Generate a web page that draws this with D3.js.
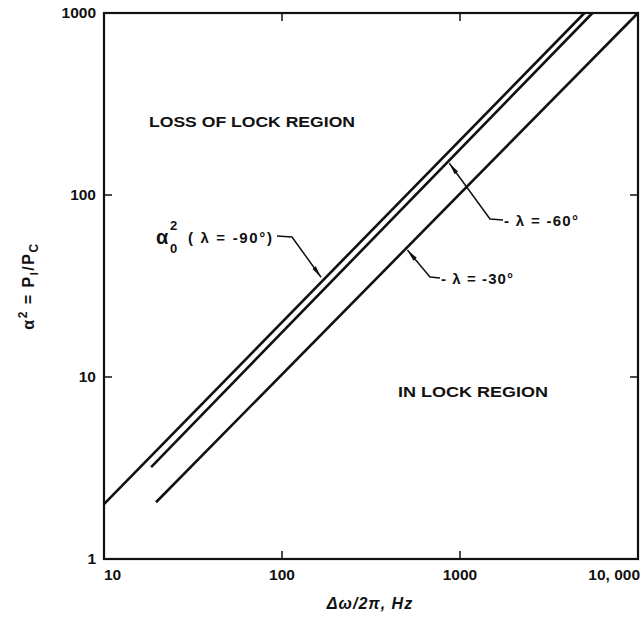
<!DOCTYPE html>
<html>
<head>
<meta charset="utf-8">
<script src="https://cdn.jsdelivr.net/npm/d3@7"></script>
<style>
  body { margin: 0; background: #fff; }
  svg text { font-family: "Liberation Sans", "DejaVu Sans", sans-serif; font-weight: bold; fill: #111; }
</style>
</head>
<body>
<svg id="chart" width="643" height="627"></svg>
<script>
// ---- data ----
const xTicks = [10, 100, 1000, 10000];
const xTickLabels = ["10", "100", "1000", "10, 000"];
const yTicks = [1, 10, 100, 1000];
const yTickLabels = ["1", "10", "100", "1000"];

// curve endpoints (straight lines on log-log axes)
const a0X = [10, 5000];
const a0Y = [2, 1000];
const l60X = [18.4, 5550];
const l60Y = [3.2, 1000];
const l30X = [19.6, 10000];
const l30Y = [2.05, 1000];

// x position (Hz) where each annotation arrow touches its curve
const arrowAtX = { a0: 170, l60: 860, l30: 500 };

// ---- layout ----
const svg = d3.select("#chart");
const x = d3.scaleLog().domain([10, 10000]).range([104, 638]);
const y = d3.scaleLog().domain([1, 1000]).range([559, 13]);

const ink = "#111";

// frame
svg.append("rect")
  .attr("x", x(10)).attr("y", y(1000))
  .attr("width", x(10000) - x(10)).attr("height", y(1) - y(1000))
  .attr("fill", "none").attr("stroke", ink).attr("stroke-width", 2.2);

// inward ticks
const tickLen = 8;
const g = svg.append("g").attr("stroke", ink).attr("stroke-width", 1.5);
xTicks.slice(1, -1).forEach(t => {
  g.append("line").attr("x1", x(t)).attr("x2", x(t)).attr("y1", y(1)).attr("y2", y(1) - tickLen);
  g.append("line").attr("x1", x(t)).attr("x2", x(t)).attr("y1", y(1000)).attr("y2", y(1000) + tickLen);
});
yTicks.slice(1, -1).forEach(t => {
  g.append("line").attr("x1", x(10)).attr("x2", x(10) + tickLen).attr("y1", y(t)).attr("y2", y(t));
  g.append("line").attr("x1", x(10000)).attr("x2", x(10000) - tickLen).attr("y1", y(t)).attr("y2", y(t));
});

// tick labels
const xAnchor = ["start", "middle", "middle", "end"];
const xOff = [0, 0, 0, 2];
xTicks.forEach((t, i) => {
  svg.append("text").attr("x", x(t) + xOff[i]).attr("y", 580)
    .attr("text-anchor", xAnchor[i]).attr("font-size", 15.5).text(xTickLabels[i]);
});
yTicks.forEach((t, i) => {
  svg.append("text").attr("x", 96).attr("y", y(t) + 5)
    .attr("text-anchor", "end").attr("font-size", 15.5).text(yTickLabels[i]);
});

// curves
const line = d3.line().x(d => x(d[0])).y(d => y(d[1]));
const curves = {
  a0: d3.zip(a0X, a0Y),
  l60: d3.zip(l60X, l60Y),
  l30: d3.zip(l30X, l30Y)
};
Object.values(curves).forEach(pts => {
  svg.append("path").attr("d", line(pts)).attr("fill", "none")
    .attr("stroke", ink).attr("stroke-width", 2.6);
});
function valAt(pts, xv) {
  const [p0, p1] = pts;
  const k = Math.log(p1[1] / p0[1]) / Math.log(p1[0] / p0[0]);
  return p0[1] * Math.pow(xv / p0[0], k);
}

// arrow marker
svg.append("defs").append("marker")
  .attr("id", "arr").attr("viewBox", "0 0 12 6").attr("refX", 12).attr("refY", 3)
  .attr("markerWidth", 12).attr("markerHeight", 6).attr("markerUnits", "userSpaceOnUse")
  .attr("orient", "auto")
  .append("path").attr("d", "M0,0.8 L12,3 L0,5.2 Z").attr("fill", ink);

function leader(points) {
  svg.append("path").attr("d", d3.line()(points)).attr("fill", "none")
    .attr("stroke", ink).attr("stroke-width", 1.5).attr("marker-end", "url(#arr)");
}

// alpha0^2 label
const tipA = [x(arrowAtX.a0), y(valAt(curves.a0, arrowAtX.a0))];
leader([[277, 236], [292, 237], [tipA[0] - 2, tipA[1] - 3]]);
svg.append("text").attr("x", 156).attr("y", 244).attr("font-size", 20).text("α");
svg.append("text").attr("x", 170).attr("y", 230).attr("font-size", 13).text("2");
svg.append("text").attr("x", 170).attr("y", 253).attr("font-size", 13).text("0");
svg.append("text").attr("x", 188).attr("y", 243).attr("font-size", 15)
  .attr("textLength", 84).attr("lengthAdjust", "spacing").text("( λ = -90°)");

// lambda = -60 label
const tip60 = [x(arrowAtX.l60), y(valAt(curves.l60, arrowAtX.l60))];
leader([[503, 220], [490, 219], [tip60[0] + 1, tip60[1] + 2]]);
svg.append("text").attr("x", 504).attr("y", 226).attr("font-size", 15)
  .attr("textLength", 74).attr("lengthAdjust", "spacing").text("- λ = -60°");

// lambda = -30 label
const tip30 = [x(arrowAtX.l30), y(valAt(curves.l30, arrowAtX.l30))];
leader([[440, 278], [430, 277], [tip30[0] + 1, tip30[1] + 2]]);
svg.append("text").attr("x", 441).attr("y", 284).attr("font-size", 15)
  .attr("textLength", 72).attr("lengthAdjust", "spacing").text("- λ = -30°");

// region labels
svg.append("text").attr("x", 149).attr("y", 127).attr("font-size", 15)
  .attr("textLength", 206).attr("lengthAdjust", "spacingAndGlyphs").text("LOSS OF LOCK REGION");
svg.append("text").attr("x", 398).attr("y", 397).attr("font-size", 15)
  .attr("textLength", 150).attr("lengthAdjust", "spacingAndGlyphs").text("IN LOCK REGION");

// axis titles
const yt = svg.append("text").attr("transform", "translate(34,286) rotate(-90)")
  .attr("text-anchor", "middle").attr("font-size", 16).attr("letter-spacing", 1.5);
yt.append("tspan").text("α");
yt.append("tspan").attr("dy", -7).attr("font-size", 12).text("2");
yt.append("tspan").attr("dy", 7).text(" = P");
yt.append("tspan").attr("dy", 4).attr("font-size", 11).text("I");
yt.append("tspan").attr("dy", -4).text("/P");
yt.append("tspan").attr("dy", 4).attr("font-size", 12).text("C");

svg.append("text").attr("x", 370).attr("y", 609).attr("text-anchor", "middle")
  .attr("font-size", 16).attr("font-style", "italic").attr("letter-spacing", 1)
  .text("Δω/2π,  Hz");
</script>
</body>
</html>
